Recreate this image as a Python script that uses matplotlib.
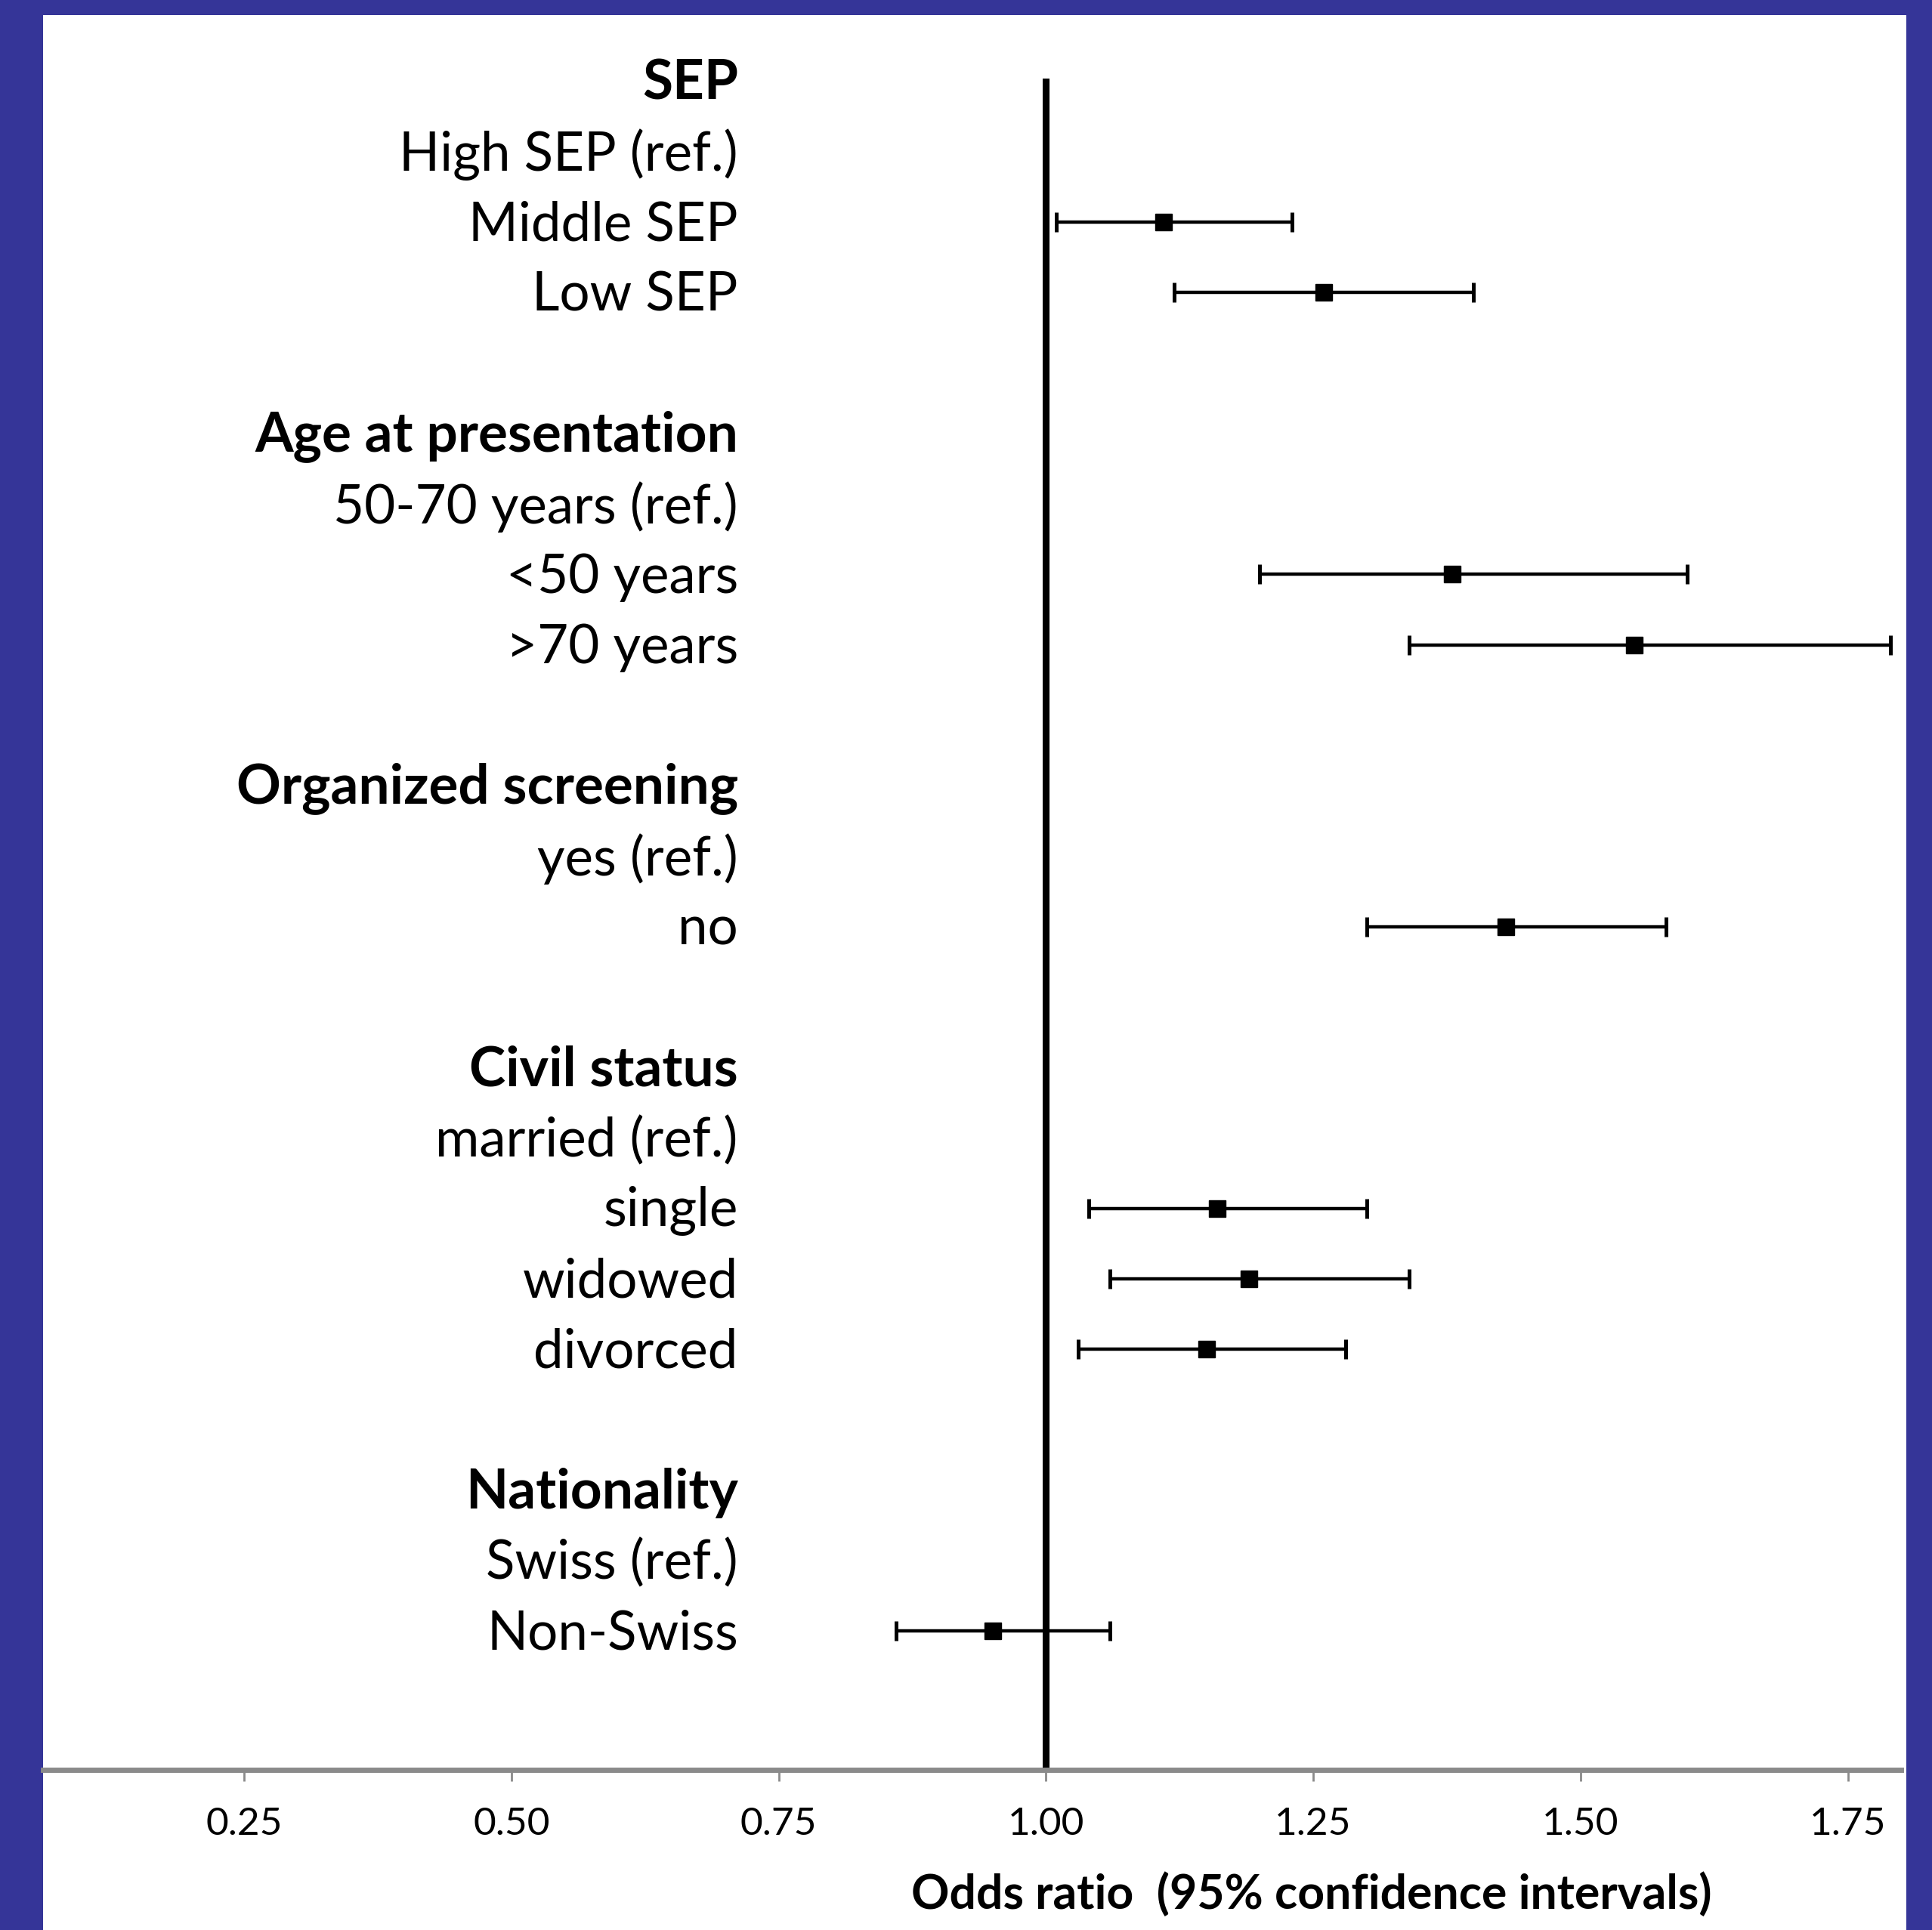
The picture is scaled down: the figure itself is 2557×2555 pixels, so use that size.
import matplotlib
matplotlib.use("Agg")
import matplotlib.pyplot as plt
from matplotlib.patches import Rectangle

# ---- data ----
row_labels = ["SEP", "High SEP (ref.)", "Middle SEP", "Low SEP", "",
              "Age at presentation", "50-70 years (ref.)", "<50 years", ">70 years", "",
              "Organized screening", "yes (ref.)", "no", "",
              "Civil status", "married (ref.)", "single", "widowed", "divorced", "",
              "Nationality", "Swiss (ref.)", "Non-Swiss"]
header_rows = ["SEP", "Age at presentation", "Organized screening", "Civil status", "Nationality"]
est_labels = ["Middle SEP", "Low SEP", "<50 years", ">70 years", "no",
              "single", "widowed", "divorced", "Non-Swiss"]
odds_ratio = [1.11, 1.26, 1.38, 1.55, 1.43, 1.16, 1.19, 1.15, 0.95]
ci_low = [1.01, 1.12, 1.20, 1.34, 1.30, 1.04, 1.06, 1.03, 0.86]
ci_high = [1.23, 1.40, 1.60, 1.79, 1.58, 1.30, 1.34, 1.28, 1.06]
xticks = [0.25, 0.50, 0.75, 1.00, 1.25, 1.50, 1.75]
xtick_labels = ["0.25", "0.50", "0.75", "1.00", "1.25", "1.50", "1.75"]
xlabel = "Odds ratio  (95% confidence intervals)"

FONT = "Lato"
BLUE = "#353598"

fig = plt.figure(figsize=(25.57, 25.55), dpi=100)
fig.patch.set_facecolor(BLUE)
fig.patches.append(Rectangle((0.0223, 0.0), 0.9643, 0.9923, transform=fig.transFigure,
                             facecolor="white", edgecolor="none", zorder=-10))

ax = fig.add_axes([0.0223, 0.0830, 0.9618, 0.9093])
ax.set_zorder(5)
ax.set_facecolor("none")
ax.set_xlim(0.062, 1.80)
ax.set_ylim(23.97, -0.944)

ypos = {lab: i for i, lab in enumerate(row_labels) if lab}

# labels
for lab, i in ypos.items():
    bold = lab in header_rows
    ax.text(0.712, i + 0.04, lab, ha="right", va="center",
            fontsize=52.5 if bold else 51,
            fontweight="bold" if bold else "normal", family=FONT, color="black")

# reference line
ax.axvline(1.0, ymin=0.0, ymax=0.962, color="black", lw=6.5, zorder=2)

# estimates
ys = [ypos[l] for l in est_labels]
xerr = [[o - lo for o, lo in zip(odds_ratio, ci_low)],
        [hi - o for o, hi in zip(odds_ratio, ci_high)]]
ax.errorbar(odds_ratio, ys, xerr=xerr, fmt="s", color="black", ms=16.5,
            elinewidth=3.2, capsize=9.7, capthick=3.6, zorder=3)

# axis styling
for s in ["top", "right", "left"]:
    ax.spines[s].set_visible(False)
ax.spines["bottom"].set_color("#8a8a8a")
ax.spines["bottom"].set_linewidth(5)
ax.set_yticks([])
ax.set_xticks(xticks)
ax.set_xticklabels(xtick_labels, family=FONT, fontsize=37)
ax.tick_params(axis="x", direction="out", length=11, width=2, color="#8a8a8a", pad=24)

fig.text(0.679, 0.0185, xlabel, ha="center", va="center", fontsize=45,
         fontweight="bold", family=FONT, zorder=6)

fig.savefig("out.png", dpi=100, facecolor=BLUE)
